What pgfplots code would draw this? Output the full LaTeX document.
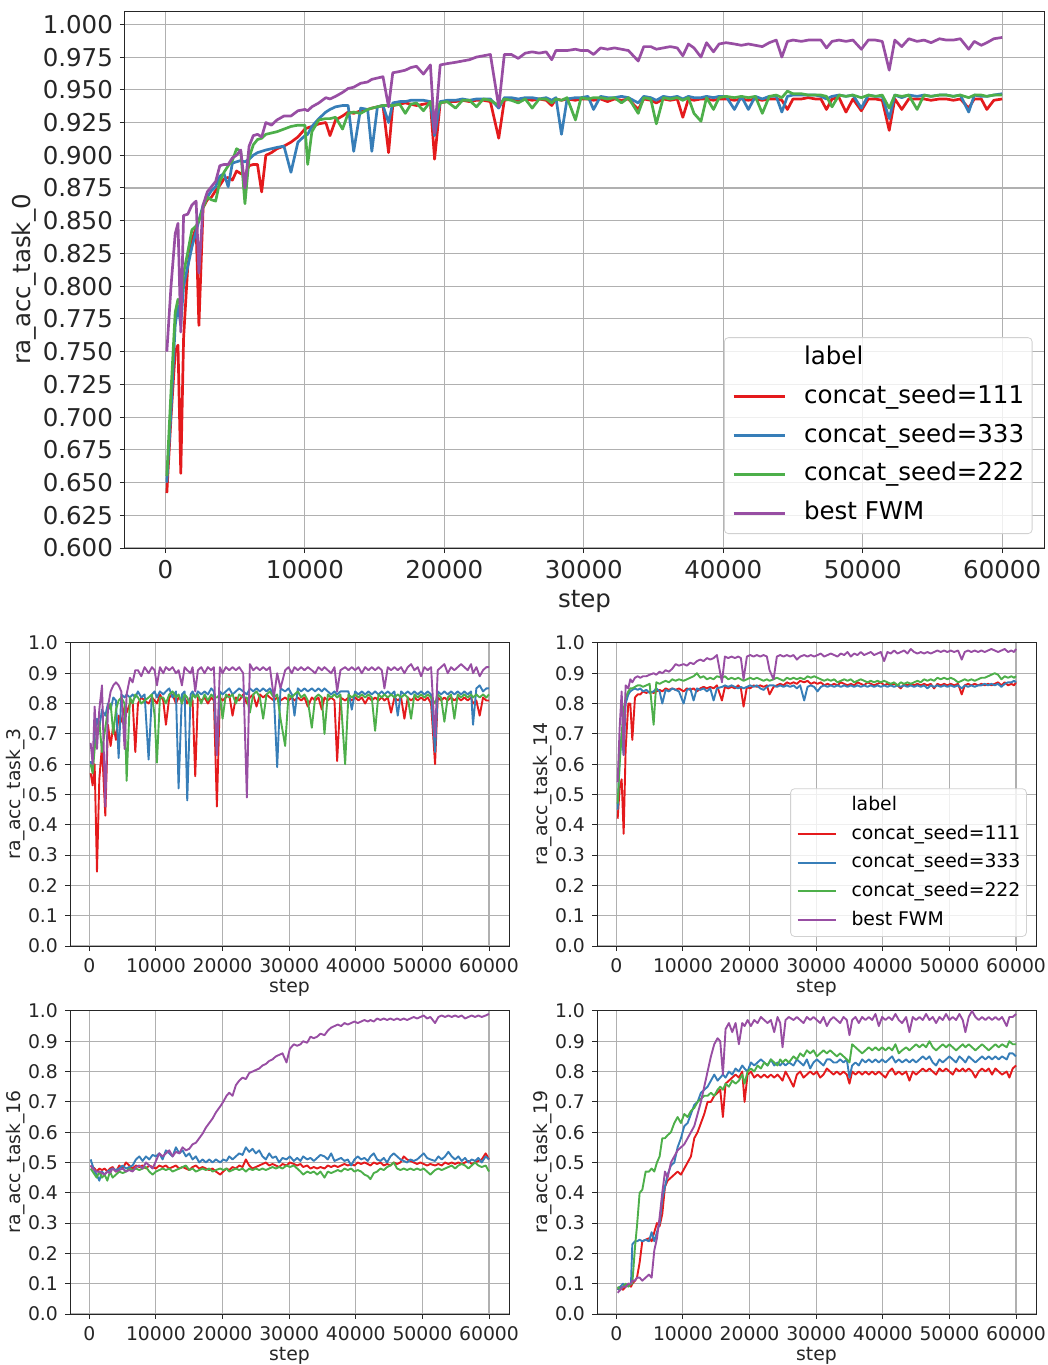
\documentclass[border=0pt]{standalone}
\usepackage{fontspec}
\setmainfont{DejaVu Sans}
\usepackage{pgfplots}
\usepackage{pgfplotstable}
\pgfplotsset{compat=1.18}
\definecolor{cR}{HTML}{E41A1C}
\definecolor{cB}{HTML}{377EB8}
\definecolor{cG}{HTML}{4DAF4A}
\definecolor{cP}{HTML}{984EA3}
\definecolor{gridc}{HTML}{B0B0B0}
\definecolor{txt}{HTML}{262626}
\newcommand{\bigfont}{\fontsize{12.25}{14.7}\selectfont}
\newcommand{\smallfont}{\fontsize{9.4}{11.3}\selectfont}

\pgfplotstableread{
x r b g p
100 0.642 0.650 0.655 0.750
400 0.700 0.705 0.720 0.800
700 0.750 0.770 0.780 0.840
900 0.755 0.785 0.790 0.848
1100 0.657 0.770 0.785 0.765
1300 0.760 0.800 0.810 0.854
1600 0.815 0.815 0.826 0.855
1900 0.835 0.830 0.843 0.862
2200 0.845 0.842 0.846 0.865
2400 0.770 0.850 0.850 0.810
2700 0.860 0.862 0.860 0.862
3000 0.866 0.868 0.868 0.872
3300 0.868 0.873 0.866 0.876
3600 0.873 0.876 0.865 0.880
3900 0.877 0.884 0.880 0.892
4200 0.882 0.886 0.887 0.893
4500 0.883 0.876 0.892 0.893
4800 0.881 0.894 0.896 0.898
5100 0.888 0.895 0.905 0.900
5400 0.886 0.896 0.903 0.904
5700 0.885 0.895 0.863 0.875
6000 0.892 0.897 0.898 0.907
6300 0.893 0.900 0.908 0.915
6600 0.893 0.902 0.912 0.916
6900 0.872 0.903 0.913 0.914
7200 0.900 0.904 0.916 0.925
7600 0.902 0.905 0.917 0.923
8000 0.905 0.906 0.918 0.927
8500 0.907 0.907 0.920 0.930
9000 0.910 0.887 0.922 0.930
9500 0.914 0.910 0.923 0.934
10000 0.920 0.915 0.923 0.935
10200 0.921 0.916 0.893 0.934
10500 0.922 0.922 0.918 0.937
11000 0.924 0.928 0.927 0.940
11500 0.925 0.933 0.928 0.944
11800 0.915 0.935 0.928 0.943
12200 0.927 0.937 0.929 0.945
12700 0.930 0.938 0.920 0.948
13100 0.933 0.938 0.932 0.951
13500 0.932 0.903 0.933 0.952
14000 0.934 0.936 0.932 0.955
14500 0.935 0.935 0.935 0.956
14800 0.936 0.903 0.936 0.958
15200 0.937 0.937 0.937 0.959
15600 0.938 0.938 0.938 0.960
16000 0.902 0.925 0.938 0.937
16300 0.938 0.940 0.938 0.963
16800 0.939 0.941 0.939 0.964
17200 0.940 0.941 0.932 0.965
17600 0.939 0.942 0.939 0.967
18000 0.938 0.942 0.940 0.968
18500 0.939 0.942 0.934 0.962
19000 0.940 0.941 0.941 0.969
19300 0.897 0.915 0.930 0.917
19700 0.940 0.941 0.940 0.969
20200 0.941 0.942 0.941 0.970
20800 0.941 0.942 0.936 0.971
21300 0.942 0.943 0.942 0.972
21800 0.941 0.942 0.942 0.973
22300 0.942 0.943 0.937 0.975
22800 0.942 0.943 0.943 0.976
23300 0.941 0.943 0.942 0.977
23900 0.913 0.936 0.938 0.937
24300 0.942 0.944 0.943 0.977
24800 0.943 0.944 0.942 0.977
25300 0.941 0.943 0.940 0.974
25800 0.943 0.944 0.943 0.978
26300 0.942 0.944 0.936 0.979
26800 0.943 0.943 0.943 0.978
27300 0.942 0.944 0.943 0.979
27700 0.938 0.942 0.940 0.973
28000 0.943 0.944 0.943 0.980
28400 0.942 0.916 0.942 0.980
28800 0.943 0.943 0.944 0.980
29400 0.942 0.944 0.927 0.981
29800 0.943 0.944 0.944 0.980
30300 0.943 0.945 0.943 0.980
30700 0.942 0.935 0.944 0.977
31200 0.943 0.945 0.944 0.982
31700 0.941 0.944 0.943 0.981
32200 0.943 0.944 0.944 0.982
32700 0.942 0.945 0.940 0.981
33200 0.943 0.944 0.944 0.980
33900 0.935 0.940 0.932 0.972
34300 0.943 0.945 0.944 0.983
34800 0.942 0.944 0.943 0.983
35200 0.940 0.942 0.924 0.981
35700 0.943 0.945 0.944 0.982
36200 0.942 0.944 0.943 0.983
36700 0.943 0.945 0.944 0.982
37100 0.929 0.943 0.942 0.976
37500 0.943 0.945 0.944 0.985
37900 0.942 0.944 0.932 0.982
38400 0.943 0.944 0.926 0.975
38800 0.943 0.945 0.944 0.986
39300 0.942 0.944 0.935 0.979
39700 0.943 0.945 0.944 0.985
40200 0.943 0.945 0.945 0.986
40800 0.942 0.935 0.944 0.985
41300 0.943 0.945 0.945 0.984
41800 0.942 0.935 0.944 0.985
42300 0.943 0.945 0.945 0.984
42800 0.942 0.943 0.932 0.983
43300 0.943 0.945 0.945 0.986
43800 0.943 0.945 0.946 0.988
44200 0.942 0.933 0.944 0.975
44600 0.935 0.945 0.949 0.987
45000 0.943 0.946 0.947 0.988
45600 0.943 0.946 0.947 0.987
46100 0.944 0.946 0.946 0.988
46600 0.943 0.946 0.946 0.988
47000 0.943 0.945 0.946 0.988
47400 0.935 0.943 0.945 0.982
47800 0.943 0.945 0.937 0.987
48300 0.944 0.946 0.946 0.988
48800 0.933 0.945 0.945 0.987
49300 0.943 0.946 0.946 0.988
49900 0.934 0.936 0.944 0.981
50400 0.943 0.946 0.946 0.988
50900 0.943 0.945 0.945 0.988
51400 0.942 0.945 0.946 0.987
51900 0.919 0.928 0.936 0.965
52300 0.943 0.946 0.946 0.988
52800 0.935 0.944 0.945 0.983
53300 0.943 0.946 0.946 0.989
53900 0.943 0.945 0.935 0.987
54400 0.943 0.946 0.946 0.988
54900 0.942 0.945 0.945 0.986
55500 0.943 0.946 0.946 0.989
56000 0.943 0.946 0.946 0.988
56500 0.942 0.945 0.945 0.988
57000 0.943 0.946 0.946 0.989
57600 0.936 0.933 0.944 0.981
58000 0.943 0.946 0.946 0.987
58500 0.943 0.945 0.946 0.984
58900 0.935 0.945 0.945 0.986
59400 0.942 0.946 0.946 0.989
60000 0.943 0.947 0.946 0.990
}\tabA

\pgfplotstableread{
x r b g p
200 0.57 0.61 0.60 0.67
500 0.53 0.58 0.57 0.60
800 0.60 0.70 0.65 0.79
1150 0.245 0.75 0.70 0.65
1500 0.55 0.72 0.74 0.78
1900 0.66 0.78 0.64 0.86
2400 0.43 0.76 0.72 0.46
2800 0.73 0.80 0.78 0.79
3200 0.66 0.78 0.80 0.84
3600 0.73 0.82 0.70 0.86
4000 0.68 0.81 0.78 0.87
4400 0.76 0.62 0.81 0.86
4800 0.74 0.83 0.82 0.84
5300 0.79 0.82 0.80 0.65
5600 0.77 0.83 0.545 0.83
6100 0.80 0.82 0.82 0.885
6500 0.81 0.83 0.80 0.87
6900 0.64 0.82 0.83 0.91
7300 0.80 0.84 0.82 0.91
7800 0.82 0.82 0.80 0.89
8300 0.81 0.83 0.81 0.92
8900 0.80 0.615 0.82 0.90
9400 0.82 0.83 0.83 0.92
9800 0.81 0.84 0.76 0.91
10150 0.80 0.82 0.605 0.86
10600 0.83 0.84 0.82 0.92
11100 0.81 0.83 0.82 0.90
11500 0.73 0.84 0.80 0.92
12000 0.82 0.85 0.83 0.91
12500 0.83 0.82 0.84 0.92
13000 0.80 0.84 0.82 0.90
13400 0.82 0.52 0.83 0.91
13900 0.81 0.83 0.80 0.86
14300 0.82 0.84 0.83 0.92
14700 0.80 0.48 0.82 0.91
15200 0.82 0.83 0.79 0.90
15500 0.81 0.84 0.83 0.92
15900 0.56 0.82 0.82 0.84
16300 0.82 0.84 0.83 0.91
16800 0.81 0.83 0.80 0.92
17300 0.82 0.84 0.83 0.90
17800 0.80 0.83 0.81 0.92
18300 0.82 0.85 0.83 0.91
18700 0.81 0.84 0.82 0.92
19150 0.46 0.63 0.82 0.63
19600 0.82 0.84 0.83 0.92
20000 0.81 0.83 0.75 0.90
20500 0.82 0.84 0.83 0.92
21000 0.83 0.85 0.82 0.91
21500 0.76 0.83 0.83 0.92
22000 0.82 0.84 0.80 0.91
22500 0.81 0.85 0.83 0.92
23100 0.83 0.84 0.82 0.90
23650 0.80 0.83 0.82 0.49
24100 0.82 0.85 0.77 0.93
24600 0.83 0.84 0.83 0.91
25100 0.79 0.85 0.84 0.92
25600 0.83 0.84 0.82 0.91
26100 0.82 0.85 0.75 0.92
26600 0.83 0.84 0.83 0.91
27100 0.82 0.85 0.84 0.92
27700 0.81 0.83 0.82 0.82
28200 0.82 0.59 0.83 0.90
28700 0.81 0.85 0.75 0.85
29400 0.82 0.84 0.66 0.91
29900 0.81 0.85 0.83 0.92
30400 0.82 0.83 0.82 0.90
30800 0.81 0.76 0.83 0.92
31300 0.82 0.85 0.84 0.91
31800 0.81 0.84 0.82 0.92
32300 0.82 0.85 0.83 0.91
32800 0.79 0.84 0.81 0.92
33400 0.82 0.85 0.72 0.91
33900 0.81 0.84 0.82 0.90
34400 0.82 0.85 0.83 0.92
34900 0.78 0.84 0.82 0.91
35300 0.82 0.85 0.70 0.92
35800 0.81 0.84 0.83 0.91
36300 0.82 0.83 0.82 0.90
36800 0.81 0.84 0.83 0.92
37200 0.61 0.83 0.82 0.84
37700 0.82 0.84 0.83 0.91
38400 0.81 0.84 0.60 0.92
38900 0.82 0.84 0.83 0.91
39400 0.81 0.78 0.82 0.92
39900 0.82 0.84 0.83 0.91
40400 0.81 0.83 0.82 0.92
40900 0.82 0.84 0.83 0.90
41400 0.80 0.83 0.82 0.92
41900 0.82 0.84 0.83 0.91
42400 0.81 0.83 0.82 0.92
42900 0.82 0.84 0.71 0.91
43400 0.81 0.83 0.83 0.92
43900 0.82 0.84 0.82 0.91
44300 0.81 0.83 0.83 0.85
44800 0.82 0.84 0.82 0.92
45300 0.77 0.83 0.83 0.91
45800 0.82 0.84 0.82 0.92
46300 0.81 0.76 0.83 0.91
46800 0.82 0.84 0.82 0.92
47300 0.75 0.83 0.83 0.90
47800 0.82 0.84 0.82 0.92
48300 0.81 0.83 0.75 0.93
48800 0.82 0.84 0.83 0.91
49300 0.81 0.83 0.82 0.92
49800 0.82 0.84 0.83 0.89
50300 0.81 0.83 0.82 0.92
50800 0.82 0.84 0.83 0.91
51300 0.80 0.83 0.82 0.92
51900 0.60 0.64 0.80 0.69
52300 0.82 0.84 0.83 0.91
52800 0.81 0.83 0.82 0.92
53300 0.82 0.84 0.74 0.93
53800 0.81 0.83 0.82 0.90
54300 0.82 0.84 0.83 0.92
54800 0.81 0.83 0.75 0.91
55300 0.82 0.84 0.83 0.92
55800 0.81 0.83 0.82 0.93
56300 0.82 0.84 0.83 0.92
56800 0.81 0.83 0.82 0.91
57300 0.82 0.84 0.83 0.93
57600 0.80 0.73 0.82 0.90
58100 0.81 0.85 0.83 0.92
58600 0.76 0.86 0.82 0.89
59100 0.82 0.84 0.83 0.91
59600 0.81 0.85 0.82 0.92
60000 0.81 0.85 0.83 0.92
}\tabB

\pgfplotstableread{
x r b g p
200 0.42 0.45 0.47 0.54
500 0.52 0.62 0.60 0.72
800 0.55 0.70 0.70 0.84
1100 0.37 0.63 0.78 0.63
1400 0.65 0.80 0.82 0.86
1800 0.80 0.83 0.84 0.85
2100 0.80 0.84 0.85 0.88
2400 0.68 0.845 0.85 0.87
2800 0.82 0.85 0.855 0.885
3200 0.83 0.845 0.86 0.89
3600 0.83 0.85 0.86 0.885
4000 0.84 0.84 0.855 0.89
4500 0.835 0.845 0.86 0.89
5000 0.84 0.835 0.865 0.895
5600 0.835 0.84 0.73 0.90
6000 0.84 0.85 0.87 0.895
6500 0.845 0.84 0.865 0.905
6900 0.84 0.80 0.87 0.90
7400 0.85 0.845 0.875 0.91
7900 0.845 0.84 0.87 0.905
8400 0.85 0.85 0.88 0.915
8900 0.845 0.845 0.875 0.93
9400 0.85 0.84 0.88 0.925
10100 0.84 0.80 0.875 0.93
10600 0.85 0.845 0.88 0.925
11100 0.845 0.85 0.885 0.935
11600 0.85 0.81 0.89 0.93
12100 0.84 0.85 0.90 0.94
12600 0.85 0.845 0.885 0.945
13100 0.855 0.85 0.89 0.94
13600 0.85 0.84 0.88 0.95
14100 0.855 0.85 0.885 0.945
14600 0.85 0.81 0.88 0.95
15100 0.86 0.85 0.89 0.96
15850 0.81 0.855 0.885 0.87
16300 0.855 0.86 0.89 0.955
16800 0.85 0.855 0.88 0.95
17300 0.855 0.86 0.885 0.955
17800 0.85 0.855 0.88 0.95
18300 0.86 0.85 0.885 0.955
18700 0.85 0.855 0.88 0.95
19100 0.79 0.85 0.875 0.88
19600 0.855 0.855 0.88 0.955
20100 0.85 0.86 0.885 0.96
20600 0.86 0.855 0.88 0.955
21100 0.855 0.86 0.885 0.96
21600 0.86 0.85 0.88 0.955
22100 0.855 0.845 0.875 0.96
22600 0.86 0.855 0.88 0.955
23000 0.83 0.86 0.875 0.91
23600 0.855 0.86 0.88 0.88
24100 0.86 0.855 0.885 0.955
24600 0.865 0.86 0.88 0.96
25100 0.86 0.855 0.875 0.955
25600 0.87 0.86 0.885 0.96
26100 0.865 0.855 0.88 0.955
26600 0.87 0.86 0.885 0.96
27100 0.865 0.85 0.88 0.945
27600 0.875 0.86 0.885 0.955
28200 0.87 0.81 0.88 0.96
28700 0.875 0.855 0.89 0.955
29200 0.865 0.86 0.885 0.96
29700 0.87 0.855 0.89 0.955
30200 0.865 0.84 0.885 0.96
30700 0.87 0.855 0.88 0.965
31200 0.86 0.86 0.875 0.955
31700 0.865 0.855 0.88 0.96
32200 0.86 0.86 0.875 0.965
32700 0.865 0.855 0.88 0.96
33200 0.86 0.86 0.87 0.955
33700 0.87 0.855 0.875 0.965
34200 0.865 0.86 0.88 0.96
34700 0.86 0.855 0.875 0.97
35200 0.865 0.86 0.88 0.955
35700 0.86 0.855 0.87 0.965
36200 0.87 0.86 0.875 0.96
36700 0.865 0.855 0.88 0.97
37200 0.86 0.86 0.875 0.96
37700 0.87 0.855 0.87 0.965
38200 0.865 0.86 0.875 0.97
38700 0.86 0.855 0.87 0.96
39200 0.865 0.86 0.875 0.965
39700 0.87 0.855 0.87 0.97
40200 0.86 0.86 0.875 0.94
40700 0.865 0.855 0.87 0.97
41200 0.86 0.86 0.865 0.965
41700 0.865 0.855 0.87 0.975
42200 0.86 0.86 0.86 0.965
42700 0.85 0.855 0.87 0.97
43200 0.865 0.86 0.865 0.975
43700 0.86 0.855 0.87 0.965
44200 0.865 0.86 0.865 0.98
44700 0.86 0.855 0.87 0.97
45200 0.865 0.86 0.875 0.965
45700 0.86 0.855 0.87 0.97
46200 0.865 0.86 0.88 0.965
46700 0.86 0.85 0.875 0.97
47200 0.865 0.86 0.88 0.965
47700 0.85 0.855 0.875 0.97
48200 0.865 0.86 0.885 0.975
48700 0.86 0.855 0.88 0.97
49200 0.865 0.86 0.885 0.975
49700 0.86 0.855 0.88 0.97
50200 0.865 0.86 0.885 0.975
50700 0.86 0.855 0.88 0.97
51300 0.865 0.86 0.87 0.975
51850 0.83 0.85 0.875 0.945
52300 0.86 0.86 0.88 0.97
52800 0.865 0.855 0.875 0.975
53300 0.86 0.86 0.88 0.97
53800 0.865 0.855 0.875 0.975
54300 0.86 0.86 0.88 0.97
54800 0.865 0.86 0.885 0.975
55300 0.86 0.865 0.885 0.97
55800 0.865 0.86 0.89 0.975
56300 0.86 0.865 0.895 0.98
56800 0.865 0.86 0.90 0.975
57300 0.87 0.865 0.895 0.97
57800 0.86 0.855 0.88 0.975
58300 0.87 0.865 0.89 0.98
58800 0.86 0.87 0.885 0.97
59300 0.865 0.87 0.89 0.975
59700 0.86 0.875 0.885 0.97
60000 0.87 0.87 0.89 0.98
}\tabC

\pgfplotstableread{
x r b g p
200 0.49 0.51 0.48 0.49
500 0.485 0.49 0.47 0.48
800 0.48 0.47 0.46 0.475
1100 0.47 0.46 0.45 0.47
1500 0.48 0.44 0.47 0.47
1900 0.475 0.47 0.45 0.465
2300 0.48 0.46 0.46 0.46
2700 0.47 0.47 0.44 0.47
3100 0.48 0.475 0.47 0.465
3500 0.485 0.48 0.45 0.48
4000 0.47 0.475 0.46 0.47
4500 0.49 0.48 0.47 0.475
5000 0.48 0.49 0.465 0.48
5500 0.50 0.48 0.47 0.47
6000 0.49 0.485 0.48 0.475
6500 0.48 0.49 0.475 0.47
7000 0.49 0.51 0.48 0.485
7500 0.485 0.52 0.475 0.49
8000 0.49 0.505 0.48 0.48
8500 0.48 0.52 0.485 0.50
9000 0.49 0.51 0.47 0.49
9500 0.485 0.525 0.46 0.48
10000 0.48 0.52 0.47 0.505
10500 0.49 0.53 0.475 0.53
11000 0.485 0.51 0.48 0.52
11500 0.49 0.54 0.475 0.53
12000 0.48 0.53 0.48 0.54
12500 0.485 0.52 0.47 0.52
13000 0.49 0.55 0.475 0.535
13500 0.48 0.53 0.48 0.53
14000 0.485 0.54 0.485 0.55
14500 0.48 0.52 0.49 0.54
15000 0.475 0.53 0.475 0.545
15500 0.485 0.51 0.48 0.56
16000 0.49 0.52 0.47 0.565
16500 0.48 0.50 0.475 0.58
17000 0.485 0.51 0.48 0.595
17500 0.48 0.50 0.475 0.615
18000 0.475 0.51 0.48 0.63
18500 0.48 0.50 0.47 0.645
19000 0.47 0.51 0.475 0.665
19650 0.46 0.50 0.48 0.685
20100 0.47 0.51 0.475 0.70
20600 0.48 0.505 0.48 0.72
21000 0.475 0.52 0.47 0.73
21500 0.485 0.51 0.475 0.72
22000 0.48 0.52 0.48 0.755
22500 0.49 0.53 0.475 0.77
23000 0.485 0.525 0.48 0.78
23500 0.51 0.55 0.47 0.775
24000 0.49 0.535 0.48 0.795
24500 0.48 0.545 0.475 0.80
25000 0.485 0.53 0.48 0.805
25500 0.49 0.54 0.475 0.81
26000 0.495 0.52 0.48 0.82
26500 0.50 0.51 0.475 0.825
27000 0.49 0.53 0.48 0.835
27500 0.495 0.515 0.485 0.84
28000 0.49 0.52 0.48 0.85
28500 0.485 0.50 0.485 0.855
29000 0.495 0.515 0.48 0.86
29600 0.49 0.51 0.49 0.83
30100 0.50 0.52 0.485 0.875
30700 0.495 0.505 0.49 0.89
31200 0.49 0.515 0.48 0.885
31700 0.495 0.505 0.47 0.89
32100 0.485 0.52 0.46 0.90
32700 0.49 0.51 0.47 0.895
33200 0.48 0.515 0.465 0.915
33700 0.485 0.505 0.47 0.91
34200 0.48 0.515 0.46 0.915
34700 0.485 0.525 0.47 0.925
35300 0.48 0.52 0.45 0.92
35800 0.49 0.51 0.47 0.935
36300 0.485 0.53 0.465 0.945
36800 0.49 0.505 0.47 0.95
37300 0.485 0.51 0.475 0.955
37800 0.49 0.515 0.47 0.95
38300 0.495 0.505 0.48 0.96
38800 0.49 0.51 0.475 0.955
39300 0.495 0.49 0.48 0.96
39800 0.49 0.51 0.47 0.965
40300 0.50 0.52 0.475 0.96
40800 0.495 0.51 0.47 0.965
41300 0.50 0.515 0.46 0.97
41800 0.495 0.505 0.455 0.965
42200 0.49 0.52 0.445 0.97
42700 0.50 0.53 0.465 0.965
43200 0.495 0.51 0.47 0.975
43700 0.50 0.505 0.48 0.97
44200 0.49 0.515 0.475 0.975
44700 0.495 0.50 0.485 0.97
45200 0.49 0.52 0.49 0.975
45700 0.50 0.53 0.50 0.97
46200 0.495 0.52 0.48 0.975
46700 0.50 0.51 0.475 0.97
47200 0.52 0.505 0.48 0.975
47700 0.51 0.50 0.475 0.97
48200 0.505 0.51 0.48 0.975
48700 0.50 0.505 0.475 0.98
49200 0.495 0.51 0.48 0.975
49700 0.50 0.52 0.475 0.98
50200 0.495 0.53 0.48 0.985
50700 0.49 0.515 0.47 0.975
51200 0.495 0.51 0.46 0.98
51900 0.49 0.505 0.475 0.96
52400 0.495 0.52 0.48 0.98
52900 0.49 0.51 0.475 0.985
53400 0.50 0.52 0.48 0.98
53900 0.495 0.535 0.485 0.985
54400 0.50 0.52 0.49 0.98
54900 0.495 0.51 0.48 0.985
55400 0.50 0.52 0.49 0.98
55900 0.495 0.505 0.495 0.985
56400 0.50 0.515 0.49 0.975
56900 0.505 0.50 0.48 0.98
57400 0.495 0.51 0.49 0.985
57900 0.50 0.505 0.50 0.98
58400 0.505 0.515 0.49 0.985
58900 0.51 0.50 0.485 0.98
59500 0.53 0.52 0.49 0.985
60000 0.51 0.51 0.47 0.99
}\tabD

\pgfplotstableread{
x r b g p
200 0.08 0.08 0.09 0.07
600 0.09 0.09 0.08 0.08
1000 0.08 0.10 0.09 0.09
1400 0.09 0.09 0.10 0.09
1800 0.10 0.10 0.09 0.10
2200 0.09 0.10 0.10 0.10
2400 0.10 0.23 0.10 0.11
2800 0.11 0.24 0.22 0.11
3100 0.12 0.24 0.29 0.12
3500 0.17 0.245 0.40 0.12
3900 0.24 0.24 0.41 0.11
4400 0.245 0.245 0.47 0.12
4900 0.25 0.24 0.47 0.13
5300 0.24 0.27 0.48 0.12
5700 0.27 0.24 0.47 0.21
6100 0.30 0.27 0.50 0.25
6500 0.29 0.30 0.52 0.32
6900 0.33 0.38 0.58 0.40
7300 0.42 0.42 0.58 0.47
7700 0.44 0.46 0.59 0.45
8200 0.45 0.49 0.60 0.50
8700 0.46 0.50 0.63 0.52
9200 0.47 0.55 0.65 0.54
9700 0.46 0.58 0.63 0.55
10200 0.48 0.62 0.66 0.56
10700 0.50 0.63 0.65 0.58
11200 0.52 0.66 0.67 0.60
11700 0.58 0.69 0.68 0.62
12200 0.60 0.70 0.70 0.66
12700 0.63 0.73 0.71 0.70
13200 0.66 0.74 0.72 0.75
13700 0.70 0.75 0.72 0.80
14200 0.70 0.77 0.73 0.85
14700 0.72 0.79 0.72 0.89
15200 0.73 0.77 0.74 0.91
15600 0.74 0.78 0.75 0.90
16000 0.65 0.79 0.74 0.79
16400 0.76 0.78 0.76 0.94
16900 0.77 0.80 0.75 0.96
17400 0.78 0.79 0.77 0.93
17900 0.79 0.81 0.76 0.96
18400 0.78 0.80 0.77 0.89
18900 0.80 0.82 0.79 0.96
19250 0.70 0.81 0.76 0.95
19700 0.79 0.80 0.80 0.97
20200 0.80 0.83 0.81 0.95
20700 0.78 0.82 0.80 0.97
21200 0.79 0.83 0.82 0.96
21700 0.78 0.84 0.81 0.98
22200 0.79 0.83 0.83 0.97
22700 0.78 0.82 0.82 0.96
23200 0.79 0.84 0.84 0.97
23700 0.78 0.82 0.83 0.93
24200 0.79 0.83 0.82 0.98
24600 0.78 0.82 0.84 0.96
24950 0.77 0.83 0.83 0.88
25400 0.80 0.82 0.84 0.97
25900 0.78 0.83 0.83 0.98
26600 0.75 0.82 0.85 0.97
27100 0.79 0.84 0.84 0.98
27600 0.80 0.83 0.86 0.97
28100 0.78 0.82 0.85 0.96
28600 0.79 0.84 0.87 0.98
29100 0.80 0.81 0.86 0.97
29600 0.79 0.83 0.87 0.98
30100 0.80 0.84 0.85 0.97
30600 0.78 0.83 0.86 0.96
31100 0.79 0.82 0.87 0.98
31600 0.81 0.84 0.86 0.95
32100 0.80 0.84 0.87 0.97
32600 0.79 0.83 0.86 0.98
33100 0.80 0.83 0.85 0.97
33600 0.79 0.84 0.86 0.96
34100 0.80 0.83 0.85 0.98
34600 0.79 0.84 0.84 0.97
35000 0.76 0.78 0.83 0.92
35400 0.80 0.82 0.89 0.97
35900 0.79 0.83 0.88 0.98
36400 0.80 0.82 0.87 0.96
36900 0.79 0.84 0.86 0.98
37400 0.80 0.83 0.87 0.97
37900 0.79 0.84 0.88 0.98
38400 0.80 0.83 0.87 0.97
38900 0.79 0.84 0.88 0.99
39400 0.80 0.83 0.87 0.95
39900 0.79 0.84 0.88 0.98
40400 0.78 0.83 0.87 0.97
40900 0.80 0.84 0.88 0.98
41400 0.81 0.85 0.87 0.97
41900 0.79 0.83 0.89 0.99
42400 0.80 0.84 0.86 0.97
42900 0.79 0.83 0.87 0.96
43500 0.80 0.84 0.88 0.98
44000 0.77 0.83 0.87 0.93
44500 0.80 0.84 0.88 0.98
45000 0.79 0.83 0.89 0.97
45500 0.80 0.84 0.88 0.98
46000 0.81 0.85 0.89 0.97
46500 0.80 0.84 0.88 0.99
47000 0.81 0.85 0.90 0.97
47500 0.80 0.83 0.88 0.98
48000 0.79 0.82 0.87 0.96
48500 0.81 0.84 0.88 0.98
49000 0.80 0.83 0.89 0.97
49500 0.81 0.84 0.88 0.99
50000 0.80 0.85 0.89 0.97
50500 0.79 0.84 0.88 0.98
51000 0.81 0.83 0.87 0.97
51500 0.80 0.85 0.88 0.99
52000 0.81 0.84 0.89 0.97
52400 0.80 0.83 0.88 0.93
52900 0.81 0.85 0.89 0.98
53400 0.80 0.84 0.88 1.00
53900 0.78 0.83 0.87 0.98
54400 0.80 0.84 0.88 0.97
54900 0.81 0.85 0.89 0.98
55400 0.80 0.84 0.88 0.97
55900 0.81 0.85 0.87 0.98
56400 0.79 0.84 0.88 0.97
56900 0.81 0.85 0.89 0.98
57400 0.80 0.84 0.88 0.97
57900 0.79 0.85 0.89 0.98
58600 0.80 0.84 0.88 0.95
59000 0.78 0.86 0.90 0.98
59500 0.81 0.86 0.89 0.98
60000 0.82 0.85 0.89 0.99
}\tabE

\pgfplotsset{
  base/.style={
    scale only axis,
    axis line style={line width=0.5pt, txt},
    grid=major,
    major grid style={line width=0.55pt, color=gridc},
    tick align=outside,
    tick pos=left,
    major tick length=2.5pt,
    tick style={line width=0.5pt, txt},
    xmin=-2900, xmax=63000,
    xtick={0,10000,20000,30000,40000,50000,60000},
    scaled x ticks=false,
    scaled y ticks=false,
    /pgf/number format/assume math mode=true,
    xticklabel style={/pgf/number format/1000 sep={}},
    tick label style={text=txt},
    label style={text=txt},
    legend cell align=left,
  },
  big/.style={base,
    width=459.5pt, height=268.5pt,
    ymin=0.6, ymax=1.0102,
    ytick={0.6,0.625,0.65,0.675,0.7,0.725,0.75,0.775,0.8,0.825,0.85,0.875,0.9,0.925,0.95,0.975,1.0},
    yticklabel style={/pgf/number format/fixed, /pgf/number format/fixed zerofill, /pgf/number format/precision=3},
    tick label style={font=\bigfont},
    label style={font=\bigfont},
    every axis plot/.append style={line width=1.35pt, line join=round},
    xlabel style={at={(axis description cs:0.5,-0.1)}, anchor=center},
    ylabel style={at={(axis description cs:-0.11,0.5)}, anchor=center, rotate=0},
  },
  small/.style={base,
    width=219.5pt, height=152pt,
    ymin=0, ymax=1.003,
    ytick={0,0.1,0.2,0.3,0.4,0.5,0.6,0.7,0.8,0.9,1.0},
    yticklabel style={/pgf/number format/fixed, /pgf/number format/fixed zerofill, /pgf/number format/precision=1},
    tick label style={font=\smallfont},
    label style={font=\smallfont},
    every axis plot/.append style={line width=0.95pt, line join=round},
    xlabel style={at={(axis description cs:0.5,-0.137)}, anchor=center},
    ylabel style={at={(axis description cs:-0.123,0.5)}, anchor=center},
  },
}

\begin{document}
\begin{tikzpicture}
\useasboundingbox (0,0) rectangle (524pt,-682.5pt);

% top
\begin{axis}[big, at={(62.5pt,-274pt)}, anchor=south west,
  xlabel={step}, ylabel={ra\_acc\_task\_0},
  legend style={font=\bigfont, at={(0.9875,0.026)}, anchor=south east,
    draw=black!18, rounded corners=2pt, fill=white, fill opacity=0.8, text opacity=1,
    inner xsep=4pt, inner ysep=4.25pt, row sep=7.5pt,
    nodes={inner sep=0pt, text height=9.2pt, text depth=2.7pt},
    /tikz/every odd column/.append style={column sep=9pt}},
  legend image code/.code={\draw[#1] (0pt,0pt) -- (25.5pt,0pt);},
]
\addlegendimage{empty legend}
\addlegendentry{label}
\addplot[cR] table[x=x,y=r]{\tabA}; \addlegendentry{concat\_seed=111}
\addplot[cB] table[x=x,y=b]{\tabA}; \addlegendentry{concat\_seed=333}
\addplot[cG] table[x=x,y=g]{\tabA}; \addlegendentry{concat\_seed=222}
\addplot[cP] table[x=x,y=p]{\tabA}; \addlegendentry{best FWM}
\end{axis}

% task 3
\begin{axis}[small, at={(35pt,-473pt)}, anchor=south west,
  xlabel={step}, ylabel={ra\_acc\_task\_3}]
\addplot[cR] table[x=x,y=r]{\tabB};
\addplot[cB] table[x=x,y=b]{\tabB};
\addplot[cG] table[x=x,y=g]{\tabB};
\addplot[cP] table[x=x,y=p]{\tabB};
\end{axis}

% task 14
\begin{axis}[small, at={(298.5pt,-473pt)}, anchor=south west,
  xlabel={step}, ylabel={ra\_acc\_task\_14},
  legend style={font=\smallfont, at={(0.979,0.03)}, anchor=south east,
    draw=black!18, rounded corners=2pt, fill=white, fill opacity=0.8, text opacity=1,
    inner xsep=3pt, inner ysep=3.5pt, row sep=4.6pt,
    nodes={inner sep=0pt, text height=7.5pt, text depth=2.2pt},
    /tikz/every odd column/.append style={column sep=7.5pt}},
  legend image code/.code={\draw[#1] (0pt,0pt) -- (19pt,0pt);},
]
\addlegendimage{empty legend}
\addlegendentry{label}
\addplot[cR] table[x=x,y=r]{\tabC}; \addlegendentry{concat\_seed=111}
\addplot[cB] table[x=x,y=b]{\tabC}; \addlegendentry{concat\_seed=333}
\addplot[cG] table[x=x,y=g]{\tabC}; \addlegendentry{concat\_seed=222}
\addplot[cP] table[x=x,y=p]{\tabC}; \addlegendentry{best FWM}
\end{axis}

% task 16
\begin{axis}[small, at={(35pt,-657pt)}, anchor=south west,
  xlabel={step}, ylabel={ra\_acc\_task\_16}]
\addplot[cR] table[x=x,y=r]{\tabD};
\addplot[cB] table[x=x,y=b]{\tabD};
\addplot[cG] table[x=x,y=g]{\tabD};
\addplot[cP] table[x=x,y=p]{\tabD};
\end{axis}

% task 19
\begin{axis}[small, at={(298.5pt,-657pt)}, anchor=south west,
  xlabel={step}, ylabel={ra\_acc\_task\_19}]
\addplot[cR] table[x=x,y=r]{\tabE};
\addplot[cB] table[x=x,y=b]{\tabE};
\addplot[cG] table[x=x,y=g]{\tabE};
\addplot[cP] table[x=x,y=p]{\tabE};
\end{axis}
\end{tikzpicture}
\end{document}
